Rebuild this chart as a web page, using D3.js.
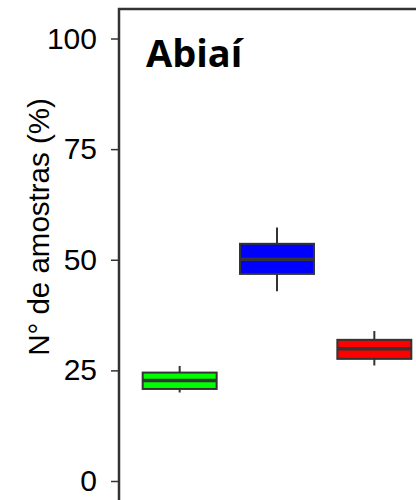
<!DOCTYPE html>
<html><head><meta charset="utf-8">
<script src="https://cdn.jsdelivr.net/npm/d3@7"></script>
<style>html,body{margin:0;padding:0;background:#fff;}svg{display:block;}</style>
</head><body>
<script>
const categories = ["A", "B", "C"];
const whiskerLow = [20.0, 42.9, 26.1];
const q1 = [20.8, 46.8, 27.6];
const median = [22.7, 50.1, 29.9];
const q3 = [24.5, 53.6, 31.9];
const whiskerHigh = [26.0, 57.3, 33.9];
const fills = ["#00ff00", "#0000ff", "#ff0000"];
const yTicks = [0, 25, 50, 75, 100];
const title = "Abiaí";
const yLabel = "N° de amostras (%)";

const W = 416, H = 500;
const svg = d3.select("body").append("svg").attr("width", W).attr("height", H);

const y = d3.scaleLinear().domain([0, 100]).range([481, 38.5]);
const x = d3.scaleBand().domain(categories).range([131, 423]);
const boxW = x.bandwidth() * 0.76;
const ink = "#333333";

// frame
svg.append("rect").attr("x", 119).attr("y", 9).attr("width", 400).attr("height", 600)
  .attr("fill", "none").attr("stroke", ink).attr("stroke-width", 2.5);

// y axis
const axis = svg.append("g").attr("transform", "translate(119,0)")
  .call(d3.axisLeft(y).tickValues(yTicks).tickSize(8).tickPadding(14).tickFormat(d3.format("d")));
axis.select(".domain").remove();
axis.selectAll(".tick line").attr("stroke", ink).attr("stroke-width", 1.5);
axis.selectAll(".tick text").attr("font-family", "Liberation Sans, Arial, sans-serif")
  .attr("font-size", 30).attr("fill", "#000");

// y label
svg.append("text").attr("transform", "translate(49,227) rotate(-90)")
  .attr("text-anchor", "middle").attr("font-family", "Liberation Sans, Arial, sans-serif")
  .attr("font-size", 29.5).attr("fill", "#000").text(yLabel);

// title
svg.append("text").attr("x", 146).attr("y", 67)
  .attr("font-family", "Open Sans, sans-serif").attr("font-weight", "bold")
  .attr("font-size", 38).attr("fill", "#000").text(title);

// boxes
const data = categories.map((c, i) => ({c, lo: whiskerLow[i], q1: q1[i], med: median[i], q3: q3[i], hi: whiskerHigh[i], fill: fills[i]}));
const cx = d => x(d.c) + x.bandwidth() / 2;
const g = svg.append("g").selectAll("g").data(data).join("g");
g.append("line").attr("x1", cx).attr("x2", cx)
  .attr("y1", d => y(d.hi)).attr("y2", d => y(d.q3)).attr("stroke", ink).attr("stroke-width", 2);
g.append("line").attr("x1", cx).attr("x2", cx)
  .attr("y1", d => y(d.q1)).attr("y2", d => y(d.lo)).attr("stroke", ink).attr("stroke-width", 2);
g.append("rect").attr("x", d => cx(d) - boxW / 2).attr("width", boxW)
  .attr("y", d => y(d.q3)).attr("height", d => y(d.q1) - y(d.q3))
  .attr("fill", d => d.fill).attr("stroke", ink).attr("stroke-width", 2);
g.append("line").attr("x1", d => cx(d) - boxW / 2).attr("x2", d => cx(d) + boxW / 2)
  .attr("y1", d => y(d.med)).attr("y2", d => y(d.med)).attr("stroke", ink).attr("stroke-width", 3.5);
</script>
</body></html>
